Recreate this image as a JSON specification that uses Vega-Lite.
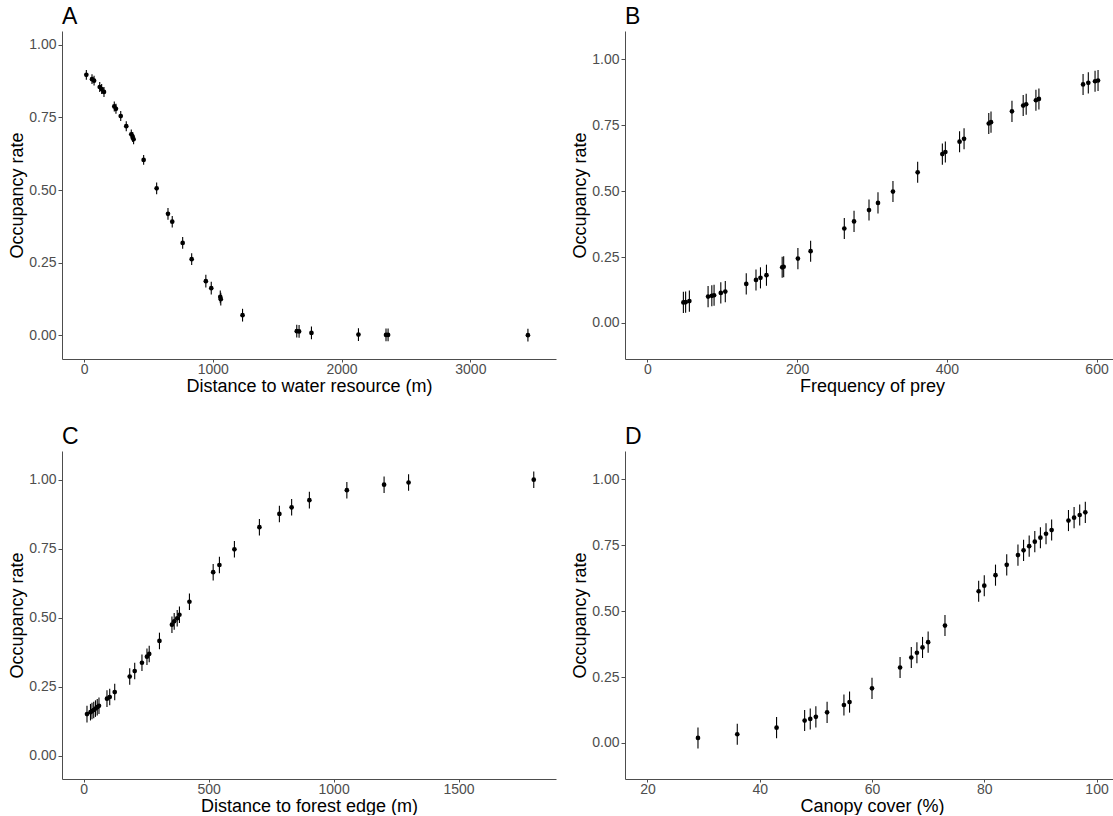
{
  "$schema": "https://vega.github.io/schema/vega-lite/v6.json",
  "padding": {"left": 8, "top": 6, "right": 0, "bottom": 0},
  "background": "white",
  "config": {
    "view": {"stroke": null},
    "font": "Liberation Sans",
    "axis": {"grid": false, "domainColor": "#4d4d4d", "tickColor": "#4d4d4d", "tickSize": 4, "labelColor": "#4d4d4d", "labelFontSize": 14, "titleFontSize": 18, "titleFontWeight": "normal", "titleColor": "#000000", "labelPadding": 2, "titlePadding": 2},
    "axisX": {"titlePadding": 1, "tickSize": 3, "labelPadding": 0, "format": "d"},
    "title": {"fontSize": 23, "fontWeight": "normal", "anchor": "start", "frame": "group", "offset": 2, "color": "#000000"}
  },
  "datasets": {
    "A": [
      {"x":18,"y":0.897,"lo":0.880,"hi":0.914},
      {"x":62,"y":0.882,"lo":0.865,"hi":0.899},
      {"x":78,"y":0.877,"lo":0.860,"hi":0.894},
      {"x":122,"y":0.855,"lo":0.838,"hi":0.872},
      {"x":137,"y":0.848,"lo":0.831,"hi":0.865},
      {"x":155,"y":0.838,"lo":0.821,"hi":0.855},
      {"x":235,"y":0.788,"lo":0.771,"hi":0.805},
      {"x":248,"y":0.780,"lo":0.763,"hi":0.797},
      {"x":285,"y":0.755,"lo":0.738,"hi":0.772},
      {"x":328,"y":0.720,"lo":0.703,"hi":0.737},
      {"x":367,"y":0.692,"lo":0.675,"hi":0.709},
      {"x":378,"y":0.683,"lo":0.666,"hi":0.700},
      {"x":385,"y":0.675,"lo":0.658,"hi":0.692},
      {"x":463,"y":0.604,"lo":0.587,"hi":0.621},
      {"x":564,"y":0.506,"lo":0.486,"hi":0.526},
      {"x":652,"y":0.418,"lo":0.398,"hi":0.438},
      {"x":685,"y":0.391,"lo":0.371,"hi":0.411},
      {"x":766,"y":0.318,"lo":0.298,"hi":0.338},
      {"x":836,"y":0.262,"lo":0.242,"hi":0.282},
      {"x":946,"y":0.186,"lo":0.164,"hi":0.208},
      {"x":988,"y":0.162,"lo":0.140,"hi":0.184},
      {"x":1058,"y":0.132,"lo":0.110,"hi":0.154},
      {"x":1062,"y":0.124,"lo":0.102,"hi":0.146},
      {"x":1231,"y":0.069,"lo":0.047,"hi":0.091},
      {"x":1652,"y":0.014,"lo":-0.008,"hi":0.036},
      {"x":1670,"y":0.013,"lo":-0.009,"hi":0.035},
      {"x":1766,"y":0.008,"lo":-0.014,"hi":0.030},
      {"x":2131,"y":0.002,"lo":-0.020,"hi":0.024},
      {"x":2345,"y":0.001,"lo":-0.021,"hi":0.023},
      {"x":2361,"y":0.001,"lo":-0.021,"hi":0.023},
      {"x":3447,"y":0.000,"lo":-0.022,"hi":0.022}
    ],
    "B": [
      {"x":48,"y":0.078,"lo":0.038,"hi":0.118},
      {"x":51,"y":0.079,"lo":0.039,"hi":0.119},
      {"x":56,"y":0.083,"lo":0.043,"hi":0.123},
      {"x":81,"y":0.100,"lo":0.060,"hi":0.140},
      {"x":86,"y":0.103,"lo":0.063,"hi":0.143},
      {"x":89,"y":0.105,"lo":0.065,"hi":0.145},
      {"x":98,"y":0.114,"lo":0.074,"hi":0.154},
      {"x":104,"y":0.119,"lo":0.079,"hi":0.159},
      {"x":132,"y":0.148,"lo":0.108,"hi":0.188},
      {"x":145,"y":0.163,"lo":0.123,"hi":0.203},
      {"x":151,"y":0.171,"lo":0.131,"hi":0.211},
      {"x":159,"y":0.181,"lo":0.141,"hi":0.221},
      {"x":180,"y":0.211,"lo":0.171,"hi":0.251},
      {"x":182,"y":0.213,"lo":0.173,"hi":0.253},
      {"x":201,"y":0.244,"lo":0.204,"hi":0.284},
      {"x":218,"y":0.272,"lo":0.232,"hi":0.312},
      {"x":263,"y":0.358,"lo":0.318,"hi":0.398},
      {"x":276,"y":0.385,"lo":0.345,"hi":0.425},
      {"x":296,"y":0.428,"lo":0.388,"hi":0.468},
      {"x":308,"y":0.455,"lo":0.415,"hi":0.495},
      {"x":328,"y":0.498,"lo":0.458,"hi":0.538},
      {"x":361,"y":0.571,"lo":0.531,"hi":0.611},
      {"x":394,"y":0.640,"lo":0.600,"hi":0.680},
      {"x":398,"y":0.648,"lo":0.608,"hi":0.688},
      {"x":417,"y":0.687,"lo":0.647,"hi":0.727},
      {"x":423,"y":0.698,"lo":0.658,"hi":0.738},
      {"x":456,"y":0.756,"lo":0.716,"hi":0.796},
      {"x":459,"y":0.761,"lo":0.721,"hi":0.801},
      {"x":487,"y":0.802,"lo":0.762,"hi":0.842},
      {"x":502,"y":0.824,"lo":0.784,"hi":0.864},
      {"x":506,"y":0.829,"lo":0.789,"hi":0.869},
      {"x":519,"y":0.844,"lo":0.804,"hi":0.884},
      {"x":523,"y":0.849,"lo":0.809,"hi":0.889},
      {"x":582,"y":0.904,"lo":0.864,"hi":0.944},
      {"x":589,"y":0.910,"lo":0.870,"hi":0.950},
      {"x":598,"y":0.916,"lo":0.876,"hi":0.956},
      {"x":602,"y":0.919,"lo":0.879,"hi":0.959}
    ],
    "C": [
      {"x":13,"y":0.151,"lo":0.121,"hi":0.181},
      {"x":27,"y":0.158,"lo":0.128,"hi":0.188},
      {"x":33,"y":0.162,"lo":0.132,"hi":0.192},
      {"x":40,"y":0.166,"lo":0.136,"hi":0.196},
      {"x":47,"y":0.171,"lo":0.141,"hi":0.201},
      {"x":54,"y":0.176,"lo":0.146,"hi":0.206},
      {"x":61,"y":0.181,"lo":0.151,"hi":0.211},
      {"x":93,"y":0.207,"lo":0.177,"hi":0.237},
      {"x":104,"y":0.213,"lo":0.183,"hi":0.243},
      {"x":124,"y":0.231,"lo":0.201,"hi":0.261},
      {"x":184,"y":0.287,"lo":0.257,"hi":0.317},
      {"x":204,"y":0.307,"lo":0.277,"hi":0.337},
      {"x":233,"y":0.337,"lo":0.307,"hi":0.367},
      {"x":253,"y":0.359,"lo":0.329,"hi":0.389},
      {"x":262,"y":0.369,"lo":0.339,"hi":0.399},
      {"x":303,"y":0.416,"lo":0.386,"hi":0.446},
      {"x":353,"y":0.475,"lo":0.445,"hi":0.505},
      {"x":362,"y":0.487,"lo":0.457,"hi":0.517},
      {"x":374,"y":0.498,"lo":0.468,"hi":0.528},
      {"x":383,"y":0.511,"lo":0.481,"hi":0.541},
      {"x":423,"y":0.558,"lo":0.528,"hi":0.588},
      {"x":518,"y":0.665,"lo":0.635,"hi":0.695},
      {"x":543,"y":0.691,"lo":0.661,"hi":0.721},
      {"x":603,"y":0.748,"lo":0.718,"hi":0.778},
      {"x":703,"y":0.828,"lo":0.798,"hi":0.858},
      {"x":783,"y":0.876,"lo":0.846,"hi":0.906},
      {"x":832,"y":0.900,"lo":0.870,"hi":0.930},
      {"x":903,"y":0.926,"lo":0.896,"hi":0.956},
      {"x":1053,"y":0.962,"lo":0.932,"hi":0.992},
      {"x":1202,"y":0.982,"lo":0.952,"hi":1.012},
      {"x":1300,"y":0.990,"lo":0.960,"hi":1.020},
      {"x":1801,"y":1.000,"lo":0.970,"hi":1.030}
    ],
    "D": [
      {"x":29,"y":0.019,"lo":-0.021,"hi":0.059},
      {"x":36,"y":0.033,"lo":-0.007,"hi":0.073},
      {"x":43,"y":0.058,"lo":0.018,"hi":0.098},
      {"x":48,"y":0.085,"lo":0.045,"hi":0.125},
      {"x":49,"y":0.091,"lo":0.051,"hi":0.131},
      {"x":50,"y":0.099,"lo":0.059,"hi":0.139},
      {"x":52,"y":0.116,"lo":0.076,"hi":0.156},
      {"x":55,"y":0.144,"lo":0.104,"hi":0.184},
      {"x":56,"y":0.155,"lo":0.115,"hi":0.195},
      {"x":60,"y":0.207,"lo":0.167,"hi":0.247},
      {"x":65,"y":0.286,"lo":0.246,"hi":0.326},
      {"x":67,"y":0.324,"lo":0.284,"hi":0.364},
      {"x":68,"y":0.342,"lo":0.302,"hi":0.382},
      {"x":69,"y":0.362,"lo":0.322,"hi":0.402},
      {"x":70,"y":0.382,"lo":0.342,"hi":0.422},
      {"x":73,"y":0.445,"lo":0.405,"hi":0.485},
      {"x":79,"y":0.575,"lo":0.535,"hi":0.615},
      {"x":80,"y":0.596,"lo":0.556,"hi":0.636},
      {"x":82,"y":0.636,"lo":0.596,"hi":0.676},
      {"x":84,"y":0.675,"lo":0.635,"hi":0.715},
      {"x":86,"y":0.712,"lo":0.672,"hi":0.752},
      {"x":87,"y":0.730,"lo":0.690,"hi":0.770},
      {"x":88,"y":0.746,"lo":0.706,"hi":0.786},
      {"x":89,"y":0.763,"lo":0.723,"hi":0.803},
      {"x":90,"y":0.778,"lo":0.738,"hi":0.818},
      {"x":91,"y":0.793,"lo":0.753,"hi":0.833},
      {"x":92,"y":0.807,"lo":0.767,"hi":0.847},
      {"x":95,"y":0.843,"lo":0.803,"hi":0.883},
      {"x":96,"y":0.854,"lo":0.814,"hi":0.894},
      {"x":97,"y":0.864,"lo":0.824,"hi":0.904},
      {"x":98,"y":0.874,"lo":0.834,"hi":0.914}
    ]
  },
  "columns": 2,
  "spacing": {"row": 92, "column": 69},
  "bounds": "flush",
  "concat": [
    {
      "title": "A",
      "width": 494, "height": 328,
      "data": {"name": "A"},
      "encoding": {
        "x": {"field": "x", "type": "quantitative", "scale": {"domain": [-171, 3665], "nice": false, "zero": false}, "axis": {"values": [0, 1000, 2000, 3000], "format": "d", "title": "Distance to water resource (m)"}}
      },
      "layer": [
        {"mark": {"type": "rule", "color": "#000000", "strokeWidth": 1.1},
         "encoding": {"y": {"field": "lo", "type": "quantitative", "scale": {"domain": [-0.082, 1.048], "nice": false, "zero": false}, "axis": {"values": [0, 0.25, 0.5, 0.75, 1], "format": ".2f"}, "title": "Occupancy rate"}, "y2": {"field": "hi"}}},
        {"mark": {"type": "circle", "color": "#000000", "opacity": 1, "size": 22},
         "encoding": {"y": {"field": "y", "type": "quantitative", "title": "Occupancy rate"}}}
      ]
    },
    {
      "title": "B",
      "width": 494, "height": 328,
      "data": {"name": "B"},
      "encoding": {
        "x": {"field": "x", "type": "quantitative", "scale": {"domain": [-30, 630], "nice": false, "zero": false}, "axis": {"values": [0, 200, 400, 600], "format": "d", "title": "Frequency of prey"}}
      },
      "layer": [
        {"mark": {"type": "rule", "color": "#000000", "strokeWidth": 1.1},
         "encoding": {"y": {"field": "lo", "type": "quantitative", "scale": {"domain": [-0.1365, 1.1065], "nice": false, "zero": false}, "axis": {"values": [0, 0.25, 0.5, 0.75, 1], "format": ".2f"}, "title": "Occupancy rate"}, "y2": {"field": "hi"}}},
        {"mark": {"type": "circle", "color": "#000000", "opacity": 1, "size": 22},
         "encoding": {"y": {"field": "y", "type": "quantitative", "title": "Occupancy rate"}}}
      ]
    },
    {
      "title": "C",
      "width": 494, "height": 328,
      "data": {"name": "C"},
      "encoding": {
        "x": {"field": "x", "type": "quantitative", "scale": {"domain": [-87, 1890], "nice": false, "zero": false}, "axis": {"values": [0, 500, 1000, 1500], "format": "d", "title": "Distance to forest edge (m)"}}
      },
      "layer": [
        {"mark": {"type": "rule", "color": "#000000", "strokeWidth": 1.1},
         "encoding": {"y": {"field": "lo", "type": "quantitative", "scale": {"domain": [-0.084, 1.104], "nice": false, "zero": false}, "axis": {"values": [0, 0.25, 0.5, 0.75, 1], "format": ".2f"}, "title": "Occupancy rate"}, "y2": {"field": "hi"}}},
        {"mark": {"type": "circle", "color": "#000000", "opacity": 1, "size": 22},
         "encoding": {"y": {"field": "y", "type": "quantitative", "title": "Occupancy rate"}}}
      ]
    },
    {
      "title": "D",
      "width": 494, "height": 328,
      "data": {"name": "D"},
      "encoding": {
        "x": {"field": "x", "type": "quantitative", "scale": {"domain": [16, 104], "nice": false, "zero": false}, "axis": {"values": [20, 40, 60, 80, 100], "format": "d", "title": "Canopy cover (%)"}}
      },
      "layer": [
        {"mark": {"type": "rule", "color": "#000000", "strokeWidth": 1.1},
         "encoding": {"y": {"field": "lo", "type": "quantitative", "scale": {"domain": [-0.1365, 1.1065], "nice": false, "zero": false}, "axis": {"values": [0, 0.25, 0.5, 0.75, 1], "format": ".2f"}, "title": "Occupancy rate"}, "y2": {"field": "hi"}}},
        {"mark": {"type": "circle", "color": "#000000", "opacity": 1, "size": 22},
         "encoding": {"y": {"field": "y", "type": "quantitative", "title": "Occupancy rate"}}}
      ]
    }
  ]
}
